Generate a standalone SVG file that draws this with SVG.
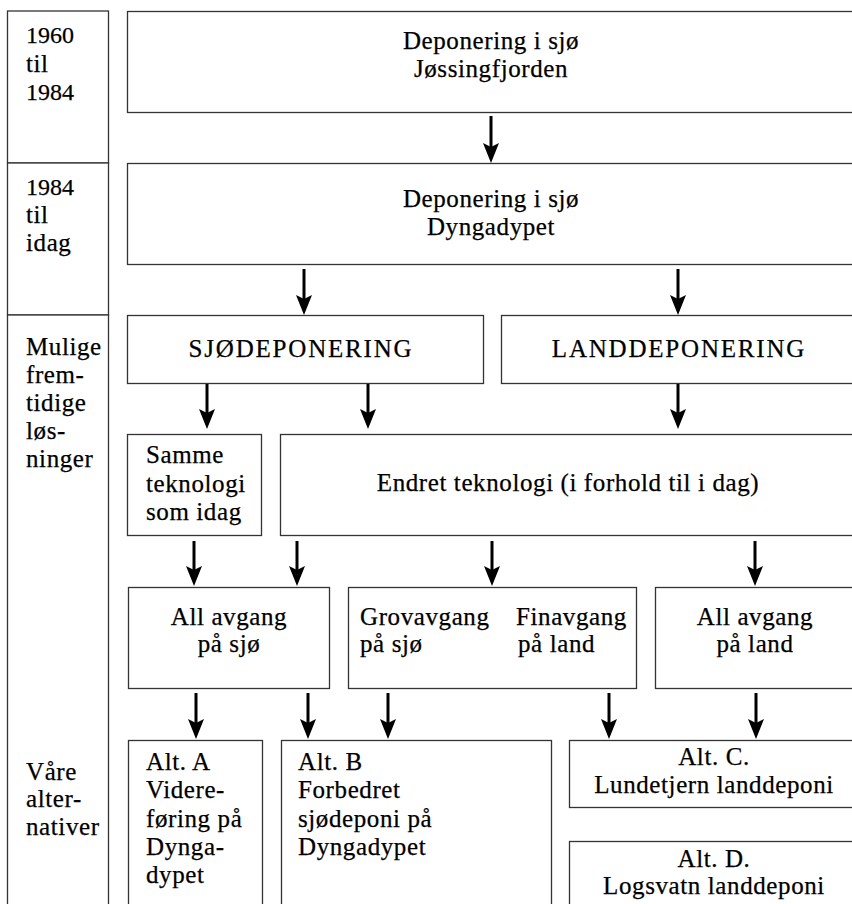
<svg xmlns="http://www.w3.org/2000/svg" width="852" height="904" viewBox="0 0 852 904">
<style>
.b{fill:#fff;stroke:#333;stroke-width:1.3}
text{font-family:"Liberation Serif","Times New Roman",serif;font-size:25px;fill:#000;stroke:#000;stroke-width:0.25;letter-spacing:0.6px}
.c{text-anchor:middle}
.cap{letter-spacing:1.8px}
.y{font-size:24px;letter-spacing:0}
.a{stroke:#000;stroke-width:3;fill:none;marker-end:url(#ah)}
</style>
<defs>
<marker id="ah" markerUnits="userSpaceOnUse" orient="auto" markerWidth="22" markerHeight="20" refX="12" refY="0" viewBox="0 -9 22 18">
<path d="M0,-8 L20,0 L0,8 L4,0 Z" fill="#000"/>
</marker>
</defs>
<rect width="852" height="904" fill="#fff"/>
<g id="period-col">
<rect class="b" x="7.5" y="11" width="101" height="152"/>
<rect class="b" x="7.5" y="163" width="101" height="152"/>
<rect class="b" x="7.5" y="315" width="101" height="620"/>
<text class="y" x="26" y="43">1960</text>
<text x="26" y="72">til</text>
<text class="y" x="26" y="100">1984</text>
<text class="y" x="26" y="195">1984</text>
<text x="26" y="223">til</text>
<text x="26" y="251">idag</text>
<text x="26" y="355">Mulige</text>
<text x="26" y="383">frem-</text>
<text x="26" y="411">tidige</text>
<text x="26" y="439">løs-</text>
<text x="26" y="467">ninger</text>
<text x="26" y="780">Våre</text>
<text x="26" y="807">alter-</text>
<text x="26" y="835">nativer</text>
</g>
<g id="n-jossing">
<rect class="b" x="127.5" y="11.5" width="740" height="101"/>
<text class="c" x="491" y="49">Deponering i sjø</text>
<text class="c" x="491" y="77">Jøssingfjorden</text>
</g>
<g id="n-dyngadypet">
<rect class="b" x="127.5" y="163.5" width="740" height="101"/>
<text class="c" x="491" y="207">Deponering i sjø</text>
<text class="c" x="491" y="235">Dyngadypet</text>
</g>
<g id="n-sjodep">
<rect class="b" x="127.5" y="315.5" width="356" height="68"/>
<text class="c cap" x="301" y="357">SJØDEPONERING</text>
</g>
<g id="n-landdep">
<rect class="b" x="501.5" y="315.5" width="366" height="68"/>
<text class="c cap" x="679" y="357">LANDDEPONERING</text>
</g>
<g id="n-samme">
<rect class="b" x="127.5" y="434.5" width="134" height="101"/>
<text x="146" y="463">Samme</text>
<text x="146" y="492">teknologi</text>
<text x="146" y="520">som idag</text>
</g>
<g id="n-endret">
<rect class="b" x="280.5" y="434.5" width="587" height="101"/>
<text class="c" x="568" y="491">Endret teknologi (i forhold til i dag)</text>
</g>
<g id="n-allsjo">
<rect class="b" x="128.5" y="587.5" width="201" height="101"/>
<text class="c" x="229" y="625">All avgang</text>
<text class="c" x="229" y="652">på sjø</text>
</g>
<g id="n-grovfin">
<rect class="b" x="348.5" y="587.5" width="288" height="101"/>
<text x="360" y="625">Grovavgang</text>
<text x="360" y="652">på sjø</text>
<text x="516" y="625">Finavgang</text>
<text x="518" y="652">på land</text>
</g>
<g id="n-allland">
<rect class="b" x="655.5" y="587.5" width="212" height="101"/>
<text class="c" x="755" y="625">All avgang</text>
<text class="c" x="755" y="652">på land</text>
</g>
<g id="n-altA">
<rect class="b" x="128.5" y="740.5" width="134" height="200"/>
<text x="146" y="770">Alt. A</text>
<text x="146" y="798">Videre-</text>
<text x="146" y="827">føring på</text>
<text x="146" y="855">Dynga-</text>
<text x="146" y="883">dypet</text>
</g>
<g id="n-altB">
<rect class="b" x="281.5" y="740.5" width="270" height="200"/>
<text x="298" y="770">Alt. B</text>
<text x="298" y="798">Forbedret</text>
<text x="298" y="827">sjødeponi på</text>
<text x="298" y="855">Dyngadypet</text>
</g>
<g id="n-altC">
<rect class="b" x="569.5" y="740.5" width="298" height="67"/>
<text class="c" x="714" y="765">Alt. C.</text>
<text class="c" x="714" y="793">Lundetjern landdeponi</text>
</g>
<g id="n-altD">
<rect class="b" x="569.5" y="841.5" width="298" height="100"/>
<text class="c" x="714" y="867">Alt. D.</text>
<text class="c" x="714" y="894">Logsvatn landdeponi</text>
</g>
<g id="connectors">
<path class="a" d="M491,116 V155"/>
<path class="a" d="M304,269 V307"/>
<path class="a" d="M678,269 V307"/>
<path class="a" d="M207,384 V421"/>
<path class="a" d="M368,384 V421"/>
<path class="a" d="M678,384 V421"/>
<path class="a" d="M194,541 V578"/>
<path class="a" d="M297,541 V578"/>
<path class="a" d="M492,541 V578"/>
<path class="a" d="M755,541 V578"/>
<path class="a" d="M196,693 V731"/>
<path class="a" d="M308,693 V731"/>
<path class="a" d="M388,693 V731"/>
<path class="a" d="M609,693 V731"/>
<path class="a" d="M756,693 V731"/>
</g>
</svg>
